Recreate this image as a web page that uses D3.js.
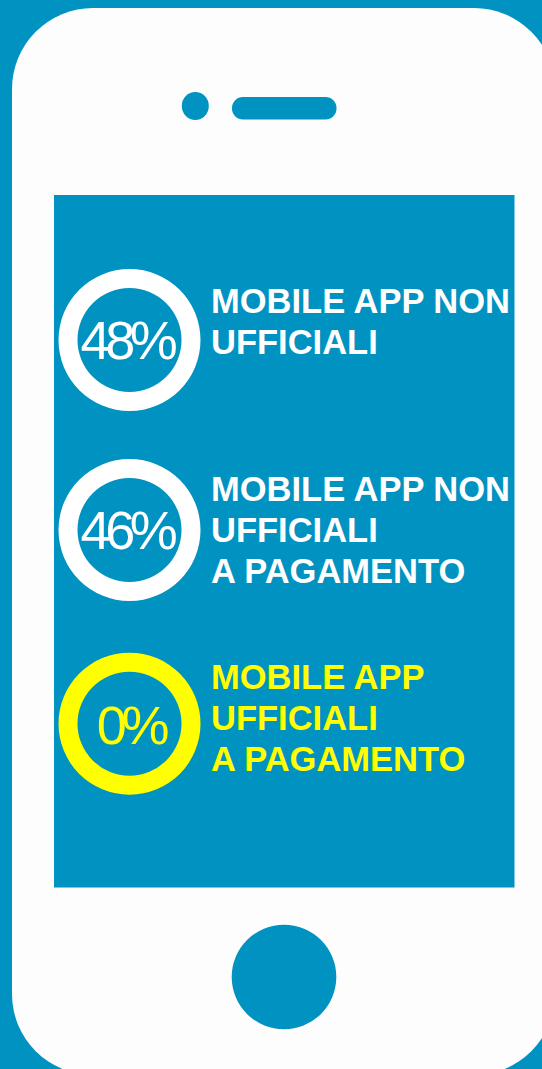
<!DOCTYPE html>
<html>
<head>
<meta charset="utf-8">
<script src="https://cdn.jsdelivr.net/npm/d3@7"></script>
<style>
html, body { margin: 0; padding: 0; background: #0093c1; overflow: hidden; }
svg { display: block; }
text { font-family: "Liberation Sans", Arial, sans-serif; }
</style>
</head>
<body>
<div id="chart"></div>
<script>
// data
const categories = ["nonUfficiali", "nonUfficialiPagamento", "ufficialiPagamento"];
const percentages = [48, 46, 0];
const labelLines = [
    ["MOBILE APP NON", "UFFICIALI"],
    ["MOBILE APP NON", "UFFICIALI", "A PAGAMENTO"],
    ["MOBILE APP", "UFFICIALI", "A PAGAMENTO"]
];

const width = 542;
const height = 1069;
const blue = "#0093c1";
const body = "#fdfdfd";

const svg = d3.select("#chart")
    .append("svg")
    .attr("width", width)
    .attr("height", height);

svg.append("rect").attr("width", width).attr("height", height).attr("fill", blue);

// phone
svg.append("rect")
    .attr("x", 12).attr("y", 8)
    .attr("width", 543).attr("height", 1067)
    .attr("rx", 81).attr("ry", 81)
    .attr("fill", body);

svg.append("rect")
    .attr("x", 54).attr("y", 195)
    .attr("width", 460.5).attr("height", 692.5)
    .attr("fill", blue);

svg.append("ellipse")
    .attr("cx", 195.3).attr("cy", 106)
    .attr("rx", 13.5).attr("ry", 14)
    .attr("fill", blue);

svg.append("rect")
    .attr("x", 232).attr("y", 97)
    .attr("width", 104.5).attr("height", 22.5)
    .attr("rx", 11)
    .attr("fill", blue);

svg.append("circle")
    .attr("cx", 284).attr("cy", 977)
    .attr("r", 52.3)
    .attr("fill", blue);

// rows
const ringY = d3.scaleOrdinal(categories, [340, 530, 723.7]);
const numberX = d3.scaleOrdinal(categories, [126.5, 126.5, 130.5]);
const numberY = d3.scaleOrdinal(categories, [359, 549, 743.5]);
const textY = d3.scaleOrdinal(categories, [312.5, 500.5, 688.5]);
const color = d3.scaleOrdinal(categories, ["#ffffff", "#ffffff", "#ffff00"]);

const ring = d3.arc()
    .innerRadius(52)
    .outerRadius(71)
    .startAngle(0)
    .endAngle(2 * Math.PI);

const rows = svg.selectAll("g.row")
    .data(categories)
    .enter()
    .append("g")
    .attr("class", "row");

rows.append("path")
    .attr("d", ring())
    .attr("transform", d => `translate(129.5,${ringY(d)})`)
    .attr("fill", d => color(d));

rows.append("text")
    .attr("x", d => numberX(d))
    .attr("y", d => numberY(d))
    .attr("text-anchor", "middle")
    .attr("font-size", 54)
    .attr("letter-spacing", -5.3)
    .attr("fill", d => color(d))
    .text((d, i) => percentages[i] + "%");

rows.each(function(d, i) {
    d3.select(this).selectAll("text.label")
        .data(labelLines[i])
        .enter()
        .append("text")
        .attr("class", "label")
        .attr("x", 211)
        .attr("y", (line, j) => textY(d) + j * 41)
        .attr("font-size", 34.5)
        .attr("font-weight", "bold")
        .attr("fill", color(d))
        .text(line => line);
});
</script>
</body>
</html>
